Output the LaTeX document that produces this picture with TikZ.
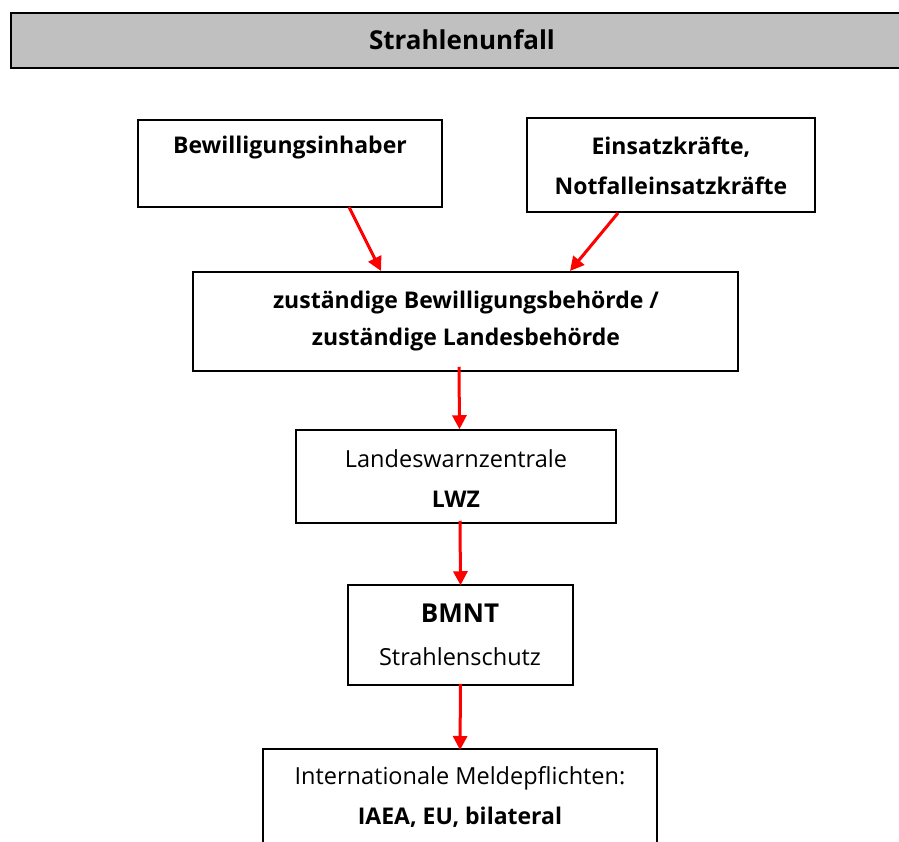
\documentclass[tikz,border=0pt]{standalone}
\usepackage{fontspec}
\setmainfont{Open Sans}
\usetikzlibrary{arrows.meta}
\definecolor{titlegray}{HTML}{C0C0C0}
\definecolor{arrowred}{HTML}{FF0000}
\tikzset{
  box/.style={draw=black, line width=1.5pt, fill=white, inner sep=0pt},
  txt/.style={inner sep=0pt, font=\fontsize{23.5}{27}\selectfont, anchor=center},
  btxt/.style={txt, font=\fontsize{23}{27}\selectfont\bfseries},
  flow/.style={draw=arrowred, line width=3pt, -{Triangle[length=14pt,width=14pt]}, shorten >=0pt},
}
\begin{document}
\begin{tikzpicture}[x=1pt,y=-1pt]
\useasboundingbox (0,0) rectangle (899,841);
% title bar
\node[draw=black, line width=1.5pt, fill=titlegray, minimum width=900pt, minimum height=55pt, anchor=north west, inner sep=0pt] (title) at (10,12) {};
\node[inner sep=0pt, font=\fontsize{26}{30}\selectfont\bfseries] (titletxt) at (462,40) {Strahlenunfall};
% boxes
\node[box, minimum width=304pt, minimum height=87pt] (box1) at (290,163.5) {};
\node[btxt] (t1) at (290,148) {Bewilligungsinhaber};
\node[box, minimum width=288pt, minimum height=94pt] (box2) at (671,165) {};
\node[btxt] (t2a) at (671,147) {Einsatzkräfte,};
\node[btxt] (t2b) at (671,186) {Notfalleinsatzkräfte};
\node[box, minimum width=545pt, minimum height=99pt] (box3) at (465.5,321.5) {};
\node[btxt] (t3a) at (466,303) {zuständige Bewilligungsbehörde /};
\node[btxt] (t3b) at (466,340) {zuständige Landesbehörde};
\node[box, minimum width=320pt, minimum height=93pt] (box4) at (456,476.5) {};
\node[txt] (t4a) at (456,459) {Landeswarnzentrale};
\node[btxt] (t4b) at (456,499) {LWZ};
\node[box, minimum width=225pt, minimum height=100pt] (box5) at (460.5,635) {};
\node[btxt, font=\fontsize{26}{30}\selectfont\bfseries] (t5a) at (460,613) {BMNT};
\node[txt] (t5b) at (460,657) {Strahlenschutz};
\node[box, minimum width=394pt, minimum height=120pt, anchor=north] (box6) at (460,748) {};
\node[txt] (t6a) at (460,778) {Internationale Meldepflichten:};
\node[btxt] (t6b) at (460,817) {IAEA, EU, bilateral};
% arrows
\coordinate (a1s) at (349,207);
\coordinate (a1e) at (381,271);
\coordinate (a2s) at (618,213);
\coordinate (a2e) at (570,271);
\draw[flow] (a1s) -- (a1e);
\draw[flow] (a2s) -- (a2e);
\draw[flow] ([xshift=-6.5pt,yshift=5pt]box3.south) -- ([xshift=3.5pt]box4.north);
\draw[flow] ([xshift=4pt,yshift=3pt]box4.south) -- ([yshift=-1pt]box5.north);
\draw[flow] ([yshift=2pt]box5.south) -- ([yshift=-2pt]box6.north);
\end{tikzpicture}
\end{document}
